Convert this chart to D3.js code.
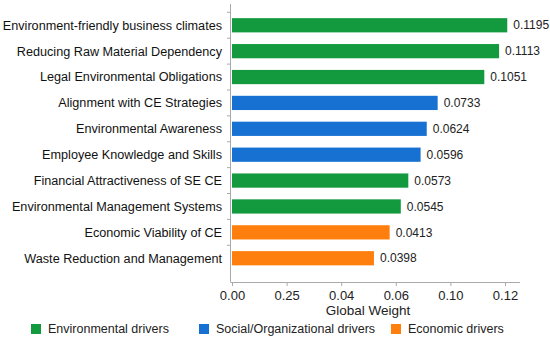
<!DOCTYPE html>
<html>
<head>
<meta charset="utf-8">
<script src="https://cdn.jsdelivr.net/npm/d3@7"></script>
<style>
  body { margin: 0; background: #fff; }
  text { font-family: "Liberation Sans", Arial, sans-serif; }
</style>
</head>
<body>
<div id="chart"></div>
<script>
// drivers, top to bottom
const categories = [
    "Environment-friendly business climates",
    "Reducing Raw Material Dependency",
    "Legal Environmental Obligations",
    "Alignment with CE Strategies",
    "Environmental Awareness",
    "Employee Knowledge and Skills",
    "Financial Attractiveness of SE CE",
    "Environmental Management Systems",
    "Economic Viability of CE",
    "Waste Reduction and Management"
];
const groups = ["env", "env", "env", "soc", "soc", "soc", "env", "env", "eco", "eco"];
// printed value labels
const weights = ["0.1195", "0.1113", "0.1051", "0.0733", "0.0624", "0.0596", "0.0573", "0.0545", "0.0413", "0.0398"];
// bar ends as drawn against the axis (axis units)
const barLengths = [0.1210, 0.1174, 0.1109, 0.0904, 0.0856, 0.0829, 0.0775, 0.0742, 0.0693, 0.0624];
// axis tick labels as printed
const tickLabels = ["0.00", "0.25", "0.04", "0.06", "0.10", "0.12"];

const legendKeys = ["env", "soc", "eco"];
const legendNames = ["Environmental drivers", "Social/Organizational drivers", "Economic drivers"];

const margin = { top: 6, right: 45, bottom: 58, left: 232 };
const width = 550 - margin.left - margin.right;
const height = 340 - margin.top - margin.bottom;

const svg = d3.select("#chart").append("svg")
    .attr("width", 550)
    .attr("height", 340)
    .append("g")
    .attr("transform", `translate(${margin.left},${margin.top})`);

const x = d3.scaleLinear()
    .domain([0, 0.12])
    .range([0, 273]);

const y = d3.scaleBand()
    .domain(categories)
    .range([0.5, 271])
    .padding(0.45);

const color = d3.scaleOrdinal()
    .domain(legendKeys)
    .range(["#139a3e", "#1771d3", "#ff7f0e"]);

const data = categories.map((c, i) => ({ name: c, group: groups[i], label: weights[i], len: barLengths[i] }));

svg.selectAll(".bar")
    .data(data)
    .enter().append("rect")
    .attr("class", "bar")
    .attr("x", x(0))
    .attr("y", d => y(d.name))
    .attr("width", d => x(d.len) - x(0))
    .attr("height", y.bandwidth())
    .attr("fill", d => color(d.group));

svg.selectAll(".val")
    .data(data)
    .enter().append("text")
    .attr("class", "val")
    .attr("x", d => x(d.len) + 6)
    .attr("y", d => y(d.name) + y.bandwidth() / 2)
    .attr("dy", "0.35em")
    .style("font-size", "12px")
    .style("fill", "#222")
    .text(d => d.label);

// y axis: line, small ticks at band edges, labels
const yAxis = svg.append("g").attr("class", "y axis");
yAxis.append("line")
    .attr("x1", -1.5).attr("x2", -1.5)
    .attr("y1", -2).attr("y2", height)
    .attr("stroke", "#aaa");
yAxis.selectAll(".ytick")
    .data(categories)
    .enter().append("line")
    .attr("x1", -5).attr("x2", -1.5)
    .attr("y1", d => y(d) - y.step() * y.paddingInner() / 2)
    .attr("y2", d => y(d) - y.step() * y.paddingInner() / 2)
    .attr("stroke", "#aaa");
yAxis.selectAll(".ylab")
    .data(categories)
    .enter().append("text")
    .attr("x", -10)
    .attr("y", d => y(d) + y.bandwidth() / 2)
    .attr("dy", "0.35em")
    .attr("text-anchor", "end")
    .style("font-size", "12.65px")
    .style("fill", "#111")
    .text(d => d);

// x axis
const xAxis = svg.append("g")
    .attr("class", "x axis")
    .attr("transform", `translate(0,${height})`)
    .call(d3.axisBottom(x)
        .tickValues(d3.range(tickLabels.length).map(i => i * 0.024))
        .tickFormat((d, i) => tickLabels[i])
        .tickSizeOuter(0)
        .tickSize(4));
xAxis.select(".domain").attr("stroke", "#aaa").attr("d", "M-1.5,0.5H288");
xAxis.selectAll(".tick line").attr("stroke", "#aaa");
xAxis.selectAll(".tick text")
    .attr("y", 9)
    .style("font-size", "13px")
    .style("font-family", "Liberation Sans, Arial, sans-serif")
    .style("fill", "#222");

svg.append("text")
    .attr("x", 136)
    .attr("y", height + 33)
    .attr("text-anchor", "middle")
    .style("font-size", "13.5px")
    .style("fill", "#222")
    .text("Global Weight");

// legend along the bottom
const legendX = [31, 199, 391];
const legend = d3.select("svg").selectAll(".legend")
    .data(legendKeys)
    .enter().append("g")
    .attr("class", "legend")
    .attr("transform", (d, i) => `translate(${legendX[i]},324)`);

legend.append("rect")
    .attr("width", 10)
    .attr("height", 10)
    .attr("fill", d => color(d));

legend.append("text")
    .attr("x", 17)
    .attr("y", 5)
    .attr("dy", "0.35em")
    .style("font-size", "12.5px")
    .style("fill", "#222")
    .text((d, i) => legendNames[i]);
</script>
</body>
</html>
